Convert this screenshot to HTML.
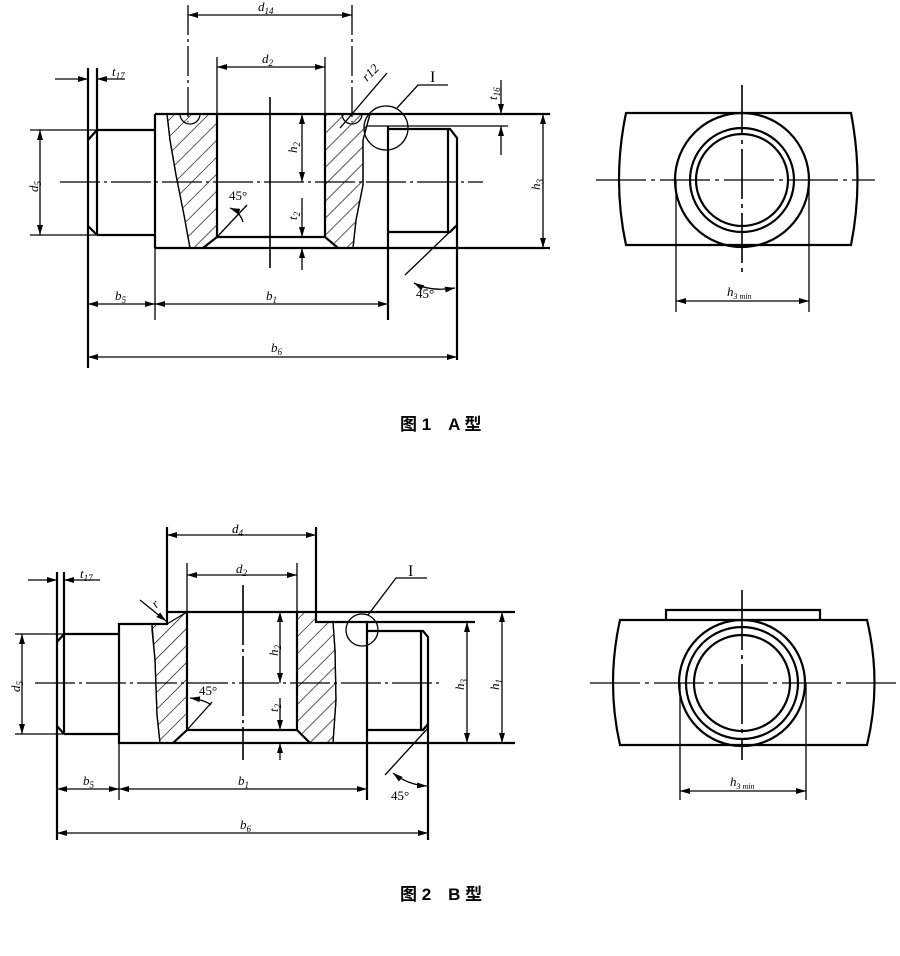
<!DOCTYPE html>
<html><head><meta charset="utf-8">
<style>
html,body{margin:0;padding:0;background:#fff;}
svg{display:block;}
text{font-family:"Liberation Serif","Noto Serif CJK SC",serif;font-style:italic;fill:#000;}
.cap{font-family:"Liberation Sans","Noto Sans CJK SC",sans-serif;font-style:normal;font-weight:bold;font-size:17px;}
</style></head><body>
<svg width="900" height="956" viewBox="0 0 900 956" xmlns="http://www.w3.org/2000/svg">
<defs>
<pattern id="h" patternUnits="userSpaceOnUse" width="12" height="12" patternTransform="rotate(45)">
<line x1="0" y1="0" x2="0" y2="12" stroke="#000" stroke-width="1.3"/>
</pattern>
<marker id="a" viewBox="0 0 10 6" refX="10" refY="3" markerWidth="10" markerHeight="6" orient="auto-start-reverse" markerUnits="userSpaceOnUse"><path d="M0,0L10,3L0,6z" fill="#000"/></marker>
</defs>
<g fill="none" stroke="#000" stroke-width="1.3">
<!-- ===== FIG 1 front ===== -->
<path d="M167,114 L217,114 L217,237 L203,248 L190,248 L184,215 L176,175 L170,140 Z" fill="url(#h)"/>
<path d="M325,114 L370,114 L363,140 L363,185 L356,220 L353,248 L338,248 L325,237 Z" fill="url(#h)"/>
<path d="M167,114 L170,140 L176,175 L184,215 L190,248"/>
<path d="M370,114 L363,140 L363,185 L356,220 L353,248"/>
<g stroke-width="2.2">
<path d="M155,114 L155,248"/>
<path d="M155,114 L550,114"/>
<path d="M155,248 L550,248"/>
<path d="M388,126 L388,320"/>
<path d="M217,114 L217,237 L325,237 L325,114"/>
<path d="M217,237 L203,248 M325,237 L338,248"/>
<path d="M97,130 L155,130 M97,235 L155,235"/>
<path d="M97,68 L97,235 M88,68 L88,368"/>
<path d="M88,140 L97,130 M88,226 L97,235"/>
<path d="M388,129 L450,129 L457,138 L457,360 M388,232 L450,232 L457,225 M448,130 L448,232"/>
</g>
<path d="M180,114 A10,10 0 0 0 200,114"/>
<path d="M342,114 A10,10 0 0 0 362,114"/>
<path d="M367,126 L508,126"/>
<path d="M60,182 L483,182" stroke-dasharray="40,4,3,4"/>
<path d="M270,97 L270,268" stroke-width="1.6"/>
<path d="M188,5 L188,122 M352,5 L352,122" stroke-dasharray="30,4,3,4"/>
<path d="M217,57 L217,114 M325,57 L325,114"/>
<path d="M188,15 L352,15" marker-start="url(#a)" marker-end="url(#a)"/>
<path d="M217,67 L325,67" marker-start="url(#a)" marker-end="url(#a)"/>
<path d="M302,114 L302,182" marker-start="url(#a)" marker-end="url(#a)"/>
<path d="M302,198 L302,237" marker-end="url(#a)"/><path d="M302,270 L302,248" marker-end="url(#a)"/>
<path d="M40,130 L40,235" marker-start="url(#a)" marker-end="url(#a)"/>
<path d="M30,130 L97,130 M30,235 L97,235"/>
<path d="M55,79 L88,79" marker-end="url(#a)"/><path d="M125,79 L97,79" marker-end="url(#a)"/>
<path d="M501,80 L501,114" marker-end="url(#a)"/><path d="M501,155 L501,126" marker-end="url(#a)"/>
<path d="M543,114 L543,248" marker-start="url(#a)" marker-end="url(#a)"/>
<path d="M155,248 L155,320"/>
<path d="M88,304 L155,304" marker-start="url(#a)" marker-end="url(#a)"/>
<path d="M155,304 L388,304" marker-start="url(#a)" marker-end="url(#a)"/>
<path d="M88,357 L457,357" marker-start="url(#a)" marker-end="url(#a)"/>
<circle cx="386" cy="128" r="22"/>
<path d="M397,108 L418,85 L448,85"/>
<path d="M340,128 L387,73"/>
<path d="M217,237 L247,205"/>
<path d="M230,208 Q240,212 243,222" marker-start="url(#a)"/>
<path d="M405,275 L457,225"/>
<path d="M414,283 Q430,292 455,288" marker-start="url(#a)" marker-end="url(#a)"/>
<!-- ===== FIG 1 side ===== -->
<g stroke-width="2.2">
<path d="M626,113 L851,113 Q864,180 851,245 L626,245 Q612,180 626,113 Z"/>
<circle cx="742" cy="180" r="67"/>
<circle cx="742" cy="180" r="52"/>
<circle cx="742" cy="180" r="46"/>
</g>
<path d="M596,180 L875,180" stroke-dasharray="50,5,4,5"/>
<path d="M742,85 L742,275" stroke-width="1.6" stroke-dasharray="50,5,4,5"/>
<path d="M676,180 L676,312 M809,180 L809,312"/>
<path d="M676,301 L809,301" marker-start="url(#a)" marker-end="url(#a)"/>
<!-- ===== FIG 2 front ===== -->
<path d="M167,624 L187,612 L187,730 L173,743 L160,743 L157,715 L155,660 L152,630 L152,624 Z" fill="url(#h)"/>
<path d="M297,612 L316,612 L316,622 L333,622 L335,650 L336,700 L333,743 L310,743 L297,730 Z" fill="url(#h)"/>
<path d="M152,624 L155,660 L157,715 L160,743"/>
<path d="M333,622 L335,650 L336,700 L333,743"/>
<g stroke-width="2.2">
<path d="M167,612 L515,612"/>
<path d="M316,527 L316,622 L475,622"/>
<path d="M167,527 L167,624 L119,624 L119,743 L515,743"/>
<path d="M367,622 L367,800"/>
<path d="M187,612 L187,730 L297,730 L297,612"/>
<path d="M187,730 L173,743 M297,730 L310,743"/>
<path d="M64,634 L119,634 M64,734 L119,734"/>
<path d="M64,572 L64,734 M57,572 L57,840"/>
<path d="M57,642 L64,634 M57,726 L64,734"/>
<path d="M367,631 L423,631 L428,637 L428,840 M367,730 L423,730 L428,724 M421,631 L421,730"/>
</g>
<path d="M35,683 L440,683" stroke-dasharray="40,4,3,4"/>
<path d="M243,585 L243,760" stroke-width="1.6" stroke-dasharray="60,4,3,4"/>
<path d="M187,563 L187,612 M297,563 L297,612"/>
<path d="M167,535 L316,535" marker-start="url(#a)" marker-end="url(#a)"/>
<path d="M187,575 L297,575" marker-start="url(#a)" marker-end="url(#a)"/>
<path d="M280,612 L280,683" marker-start="url(#a)" marker-end="url(#a)"/>
<path d="M280,698 L280,730" marker-end="url(#a)"/><path d="M280,760 L280,743" marker-end="url(#a)"/>
<path d="M467,622 L467,743" marker-start="url(#a)" marker-end="url(#a)"/>
<path d="M502,612 L502,743" marker-start="url(#a)" marker-end="url(#a)"/>
<path d="M15,634 L64,634 M15,734 L64,734"/>
<path d="M22,634 L22,734" marker-start="url(#a)" marker-end="url(#a)"/>
<path d="M28,580 L57,580" marker-end="url(#a)"/><path d="M100,580 L64,580" marker-end="url(#a)"/>
<path d="M119,743 L119,800"/>
<path d="M57,789 L119,789" marker-start="url(#a)" marker-end="url(#a)"/>
<path d="M119,789 L367,789" marker-start="url(#a)" marker-end="url(#a)"/>
<path d="M57,833 L428,833" marker-start="url(#a)" marker-end="url(#a)"/>
<circle cx="362" cy="630" r="16"/>
<path d="M368,615 L396,578 L427,578"/>
<path d="M140,600 L166,621" marker-end="url(#a)"/>
<path d="M187,730 L212,702"/>
<path d="M190,698 Q205,700 211,705" marker-start="url(#a)"/>
<path d="M385,775 L428,728"/>
<path d="M393,773 Q408,785 427,786" marker-start="url(#a)" marker-end="url(#a)"/>
<!-- ===== FIG 2 side ===== -->
<g stroke-width="2.2">
<path d="M620,620 L867,620 Q882,683 867,745 L620,745 Q606,683 620,620 Z"/>
<path d="M666,620 L666,610 L820,610 L820,620"/>
<circle cx="742" cy="683" r="63"/>
<circle cx="742" cy="683" r="56"/>
<circle cx="742" cy="683" r="48"/>
</g>
<path d="M590,683 L900,683" stroke-dasharray="50,5,4,5"/>
<path d="M742,590 L742,760" stroke-width="1.6" stroke-dasharray="60,5,4,5"/>
<path d="M680,683 L680,800 M806,683 L806,800"/>
<path d="M680,791 L806,791" marker-start="url(#a)" marker-end="url(#a)"/>
</g>
<!-- ===== labels ===== -->
<g font-size="13">
<text x="258" y="11">d<tspan font-size="9" dy="3">14</tspan></text>
<text x="262" y="63">d<tspan font-size="9" dy="3">2</tspan></text>
<text x="112" y="76">t<tspan font-size="9" dy="3">17</tspan></text>
<text x="367" y="82" transform="rotate(-45 367 82)">r12</text>
<text x="430" y="82" style="font-style:normal" font-size="16">I</text>
<text x="0" y="0" transform="translate(497,100) rotate(-90)">t<tspan font-size="9" dy="3">16</tspan></text>
<text x="0" y="0" transform="translate(38,192) rotate(-90)">d<tspan font-size="9" dy="3">5</tspan></text>
<text x="0" y="0" transform="translate(297,153) rotate(-90)">h<tspan font-size="9" dy="3">2</tspan></text>
<text x="0" y="0" transform="translate(297,220) rotate(-90)">t<tspan font-size="9" dy="3">2</tspan></text>
<text x="0" y="0" transform="translate(540,190) rotate(-90)">h<tspan font-size="9" dy="3">3</tspan></text>
<text x="229" y="200" style="font-style:normal">45°</text>
<text x="416" y="298" style="font-style:normal">45°</text>
<text x="115" y="300">b<tspan font-size="9" dy="3">5</tspan></text>
<text x="266" y="300">b<tspan font-size="9" dy="3">1</tspan></text>
<text x="271" y="352">b<tspan font-size="9" dy="3">6</tspan></text>
<text x="727" y="296">h<tspan font-size="8" dy="3">3 min</tspan></text>
<text class="cap" x="400" y="430">图 1　A 型</text>

<text x="232" y="533">d<tspan font-size="9" dy="3">4</tspan></text>
<text x="236" y="573">d<tspan font-size="9" dy="3">2</tspan></text>
<text x="80" y="578">t<tspan font-size="9" dy="3">17</tspan></text>
<text x="152" y="608" transform="rotate(-45 155 603)">r</text>
<text x="408" y="576" style="font-style:normal" font-size="16">I</text>
<text x="0" y="0" transform="translate(20,692) rotate(-90)">d<tspan font-size="9" dy="3">5</tspan></text>
<text x="0" y="0" transform="translate(278,656) rotate(-90)">h<tspan font-size="9" dy="3">2</tspan></text>
<text x="0" y="0" transform="translate(278,712) rotate(-90)">t<tspan font-size="9" dy="3">2</tspan></text>
<text x="0" y="0" transform="translate(464,690) rotate(-90)">h<tspan font-size="9" dy="3">3</tspan></text>
<text x="0" y="0" transform="translate(499,690) rotate(-90)">h<tspan font-size="9" dy="3">1</tspan></text>
<text x="199" y="695" style="font-style:normal">45°</text>
<text x="391" y="800" style="font-style:normal">45°</text>
<text x="83" y="785">b<tspan font-size="9" dy="3">5</tspan></text>
<text x="238" y="785">b<tspan font-size="9" dy="3">1</tspan></text>
<text x="240" y="829">b<tspan font-size="9" dy="3">6</tspan></text>
<text x="730" y="786">h<tspan font-size="8" dy="3">3 min</tspan></text>
<text class="cap" x="400" y="900">图 2　B 型</text>
</g>
</svg>
</body></html>
